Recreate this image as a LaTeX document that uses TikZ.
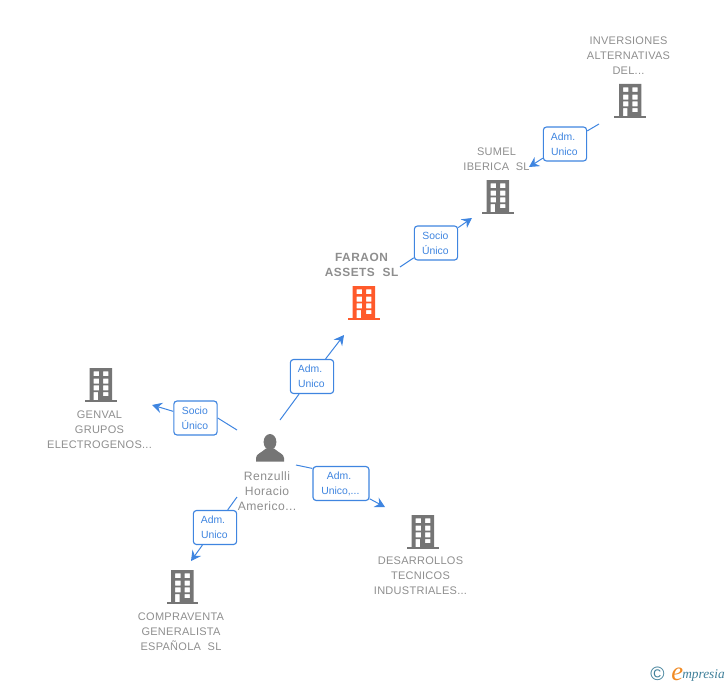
\documentclass[tikz,border=0pt]{standalone}
\usepackage{fontspec}
\setmainfont{Liberation Sans}
\newfontfamily\labelfont[LetterSpace=2.5]{Liberation Sans}
\newfontfamily\personfont[LetterSpace=3.5]{Liberation Sans}
\newfontfamily\mainlabelfont[LetterSpace=4.5]{Liberation Sans}
\newfontfamily\logofont{Liberation Serif}
\usetikzlibrary{arrows.meta,calc}
\definecolor{iconGray}{HTML}{757575}
\definecolor{textGray}{HTML}{8E8E8E}
\definecolor{mainOrange}{HTML}{FF5A2B}
\definecolor{linkBlue}{HTML}{3F85E0}
\definecolor{logoTeal}{HTML}{3F7F99}
\definecolor{logoOrange}{HTML}{F08A24}
\newcommand{\admtext}[1]{Adm.\kern3pt\\#1\kern1pt}
\newcommand{\soctext}{Socio\kern1pt\\Único\kern1pt}
\tikzset{
  x=0.75pt,y=-0.75pt,
  buildingicon/.pic={
    \fill[pic actions,even odd rule]
      (-11.3,-17) rectangle (11,15)
      (-7.3,-13.7) rectangle (-2,-9) (2,-13.7) rectangle (7.4,-9)
      (-7.3,-6.3) rectangle (-2,-1.3) (2,-6.3) rectangle (7.4,-1.3)
      (-7.3,0.3) rectangle (-2,5.3) (2,0.3) rectangle (7.4,5.3)
      (-7.3,7) rectangle (-3,15) (2,7) rectangle (7.4,11);
    \fill[pic actions] (-16,15) rectangle (15.6,16.8);
  },
  personicon/.pic={
    \fill[pic actions] (0,-6) ellipse[x radius=6.4,y radius=8];
    \fill[pic actions] (-14,13.7) -- (-14,10) .. controls (-14,6) and (-9,5) .. (-4,0.5)
      -- (4,0.5) .. controls (9,5) and (14,6) .. (14,10) -- (14,13.7) -- cycle;
  },
  iconnode/.style={inner sep=0pt,minimum width=32,minimum height=34},
  entitytext/.style={text=textGray,align=center,inner sep=0pt,font=\labelfont\fontsize{8.25pt}{11.25pt}\selectfont},
  persontext/.style={text=textGray,align=center,inner sep=0pt,font=\personfont\fontsize{9.1pt}{11.25pt}\selectfont},
  maintext/.style={text=textGray,align=center,inner sep=0pt,font=\mainlabelfont\bfseries\fontsize{8.9pt}{11.25pt}\selectfont},
  linkbox/.style={draw=linkBlue,line width=0.85pt,fill=white,rounded corners=2.4pt,minimum width=32.5pt,minimum height=25.5pt,inner sep=0pt,align=center,text=linkBlue,font=\fontsize{7.8pt}{11.25pt}\selectfont},
  linkline/.style={draw=linkBlue,line width=0.75pt},
  linkarrow/.style={draw=linkBlue,line width=0.75pt,-{Stealth[length=7.5pt,width=8pt,inset=2.6pt]}},
}
\begin{document}
\begin{tikzpicture}
\useasboundingbox (0,0) rectangle (728,685);
% icons
\node[iconnode] (inv) at (630.3,101) {}; \pic[fill=iconGray] at (inv) {buildingicon};
\node[iconnode] (sum) at (498,197) {}; \pic[fill=iconGray] at (sum) {buildingicon};
\node[iconnode] (far) at (364,303) {}; \pic[fill=mainOrange] at (far) {buildingicon};
\node[iconnode] (gen) at (101,385) {}; \pic[fill=iconGray] at (gen) {buildingicon};
\node[iconnode] (des) at (423,532) {}; \pic[fill=iconGray] at (des) {buildingicon};
\node[iconnode] (com) at (182.5,587) {}; \pic[fill=iconGray] at (com) {buildingicon};
\node[iconnode] (ren) at (270,448) {}; \pic[fill=iconGray] at (ren) {personicon};
% labels
\node[entitytext] (invt) at (628.5,56) {INVERSIONES\\ALTERNATIVAS\\DEL...};
\node[entitytext] (sumt) at (496.5,159.5) {SUMEL\\IBERICA\ \ SL};
\node[maintext] (fart) at (361.5,265) {FARAON\\ASSETS\ \ SL};
\node[entitytext] (gent) at (99.5,430) {GENVAL\\GRUPOS\\ELECTROGENOS...};
\node[persontext] (rent) at (267,491.5) {Renzulli\\Horacio\\Americo...};
\node[entitytext] (dest) at (420.5,576) {DESARROLLOS\\TECNICOS\\INDUSTRIALES...};
\node[entitytext] (comt) at (181,632) {COMPRAVENTA\\GENERALISTA\\ESPAÑOLA\ \ SL};
% free ends of the connectors
\coordinate (a1) at (599,124); \coordinate (b1) at (529,167);
\coordinate (a2) at (400,267); \coordinate (b2) at (472,218);
\coordinate (a3) at (280,420); \coordinate (b3) at (344,335);
\coordinate (a4) at (237,430); \coordinate (b4) at (152,405);
\coordinate (a5) at (296,465); \coordinate (b5) at (385,507);
\coordinate (a6) at (237,497); \coordinate (b6) at (191,561);
% link boxes
\node[linkbox] (l1) at (565,144) {\admtext{Unico}};
\node[linkbox] (l2) at (436,243) {\soctext};
\node[linkbox] (l3) at (312,376.5) {\admtext{Unico}};
\node[linkbox] (l4) at (195.5,418) {\soctext};
\node[linkbox,minimum width=42pt] (l5) at (341,483.5) {\admtext{Unico,...}};
\node[linkbox] (l6) at (215,527.5) {\admtext{Unico}};
% connectors
\draw[linkline] (a1) -- (l1);
\draw[linkarrow] (l1) -- (b1);
\draw[linkline] (a2) -- (l2);
\draw[linkarrow] (l2) -- (b2);
\draw[linkline] (a3) -- (l3);
\draw[linkarrow] (l3) -- (b3);
\draw[linkline] (a4) -- (l4.east);
\draw[linkarrow] (l4) -- (b4);
\draw[linkline] (a5) -- ($(l5.north west)+(0,2.5)$);
\draw[linkarrow] (l5) -- (b5);
\draw[linkline] (a6) -- (l6);
\draw[linkarrow] (l6) -- (b6);
% logo
\node[inner sep=0pt,text=logoTeal,font=\fontsize{14.5pt}{14.5pt}\selectfont] (logoc) at (657.5,674) {©};
\node[inner sep=0pt,anchor=base west,text=logoOrange,font=\logofont\itshape\fontsize{20pt}{20pt}\selectfont] (logoe) at (671,680) {e};
\node[inner sep=0pt,anchor=base west,text=logoTeal,font=\logofont\itshape\fontsize{10pt}{10pt}\selectfont] (logot) at (682,678) {mpresia};
\end{tikzpicture}
\end{document}
